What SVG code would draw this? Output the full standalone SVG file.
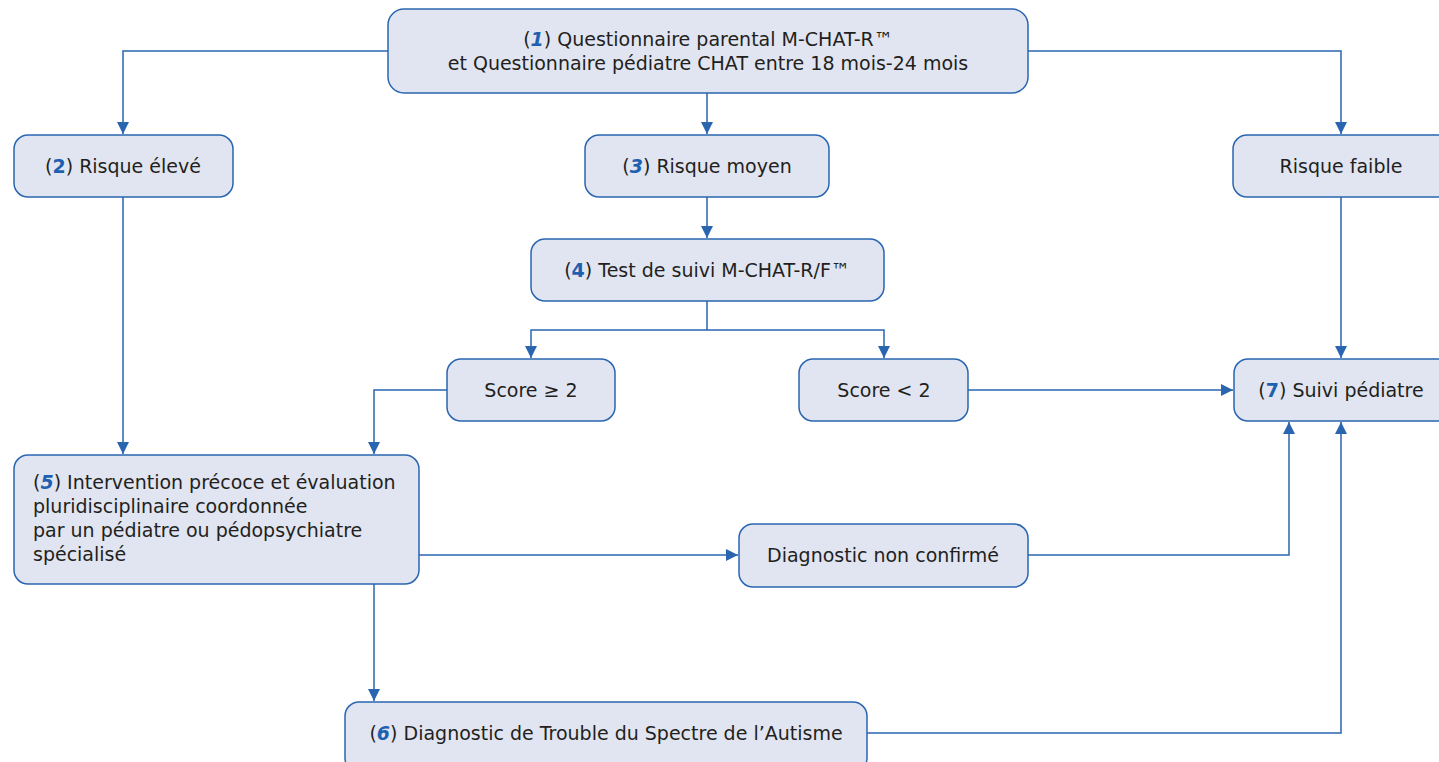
<svg xmlns="http://www.w3.org/2000/svg" width="1439" height="762" viewBox="0 0 1439 762">
<defs>
<style>
.box{fill:#e1e5f1;stroke:#2a65b0;stroke-width:1.5}
.t{font-family:"DejaVu Sans","Noto Sans","Liberation Sans",sans-serif;font-size:19px;fill:#231f20}
.n{fill:#1f5fb0;font-weight:bold;font-style:italic}
.u{fill:#1f5fb0;font-weight:bold}
.c{text-anchor:middle}
.ln{fill:none;stroke:#2a65b0;stroke-width:1.5}
</style>
<marker id="ah" viewBox="0 0 10 10" refX="10" refY="5" markerWidth="12" markerHeight="12" markerUnits="userSpaceOnUse" orient="auto">
<path d="M0,0 L10,5 L0,10 z" fill="#2a65b0"/>
</marker>
</defs>
<rect width="1439" height="762" fill="#fff"/>
<g id="connectors">
<path class="ln" d="M388,51 H123 V134" marker-end="url(#ah)"/>
<path class="ln" d="M707,93 V134" marker-end="url(#ah)"/>
<path class="ln" d="M1028,51 H1341 V134" marker-end="url(#ah)"/>
<path class="ln" d="M123,197 V454" marker-end="url(#ah)"/>
<path class="ln" d="M707,197 V238" marker-end="url(#ah)"/>
<path class="ln" d="M707,301 V330 H531 V358" marker-end="url(#ah)"/>
<path class="ln" d="M707,330 H884 V358" marker-end="url(#ah)"/>
<path class="ln" d="M447,390 H374 V454" marker-end="url(#ah)"/>
<path class="ln" d="M968,390 H1233" marker-end="url(#ah)"/>
<path class="ln" d="M1341,197 V358" marker-end="url(#ah)"/>
<path class="ln" d="M419,555 H738" marker-end="url(#ah)"/>
<path class="ln" d="M1028,555 H1289 V422" marker-end="url(#ah)"/>
<path class="ln" d="M374,584 V701" marker-end="url(#ah)"/>
<path class="ln" d="M867,733 H1341 V422" marker-end="url(#ah)"/>
</g>
<g id="n1">
<rect class="box" x="388" y="9" width="640" height="84" rx="16"/>
<text class="t c" x="708" y="46">(<tspan class="n">1</tspan>) Questionnaire parental M-CHAT-R™</text>
<text class="t c" x="708" y="70">et Questionnaire pédiatre CHAT entre 18 mois-24 mois</text>
</g>
<g id="n2">
<rect class="box" x="14" y="135" width="219" height="62" rx="14"/>
<text class="t c" x="123" y="173">(<tspan class="u">2</tspan>) Risque élevé</text>
</g>
<g id="n3">
<rect class="box" x="585" y="135" width="244" height="62" rx="14"/>
<text class="t c" x="707" y="173">(<tspan class="n">3</tspan>) Risque moyen</text>
</g>
<g id="nfaible">
<rect class="box" x="1233" y="135" width="220" height="62" rx="14"/>
<text class="t c" x="1341" y="173">Risque faible</text>
</g>
<g id="n4">
<rect class="box" x="531" y="239" width="353" height="62" rx="14"/>
<text class="t c" x="707" y="277">(<tspan class="u">4</tspan>) Test de suivi M-CHAT-R/F™</text>
</g>
<g id="nscore1">
<rect class="box" x="447" y="359" width="168" height="62" rx="14"/>
<text class="t c" x="531" y="397">Score ≥ 2</text>
</g>
<g id="nscore2">
<rect class="box" x="799" y="359" width="169" height="62" rx="14"/>
<text class="t c" x="884" y="397">Score &lt; 2</text>
</g>
<g id="n7">
<rect class="box" x="1234" y="359" width="220" height="62" rx="14"/>
<text class="t c" x="1341" y="397">(<tspan class="u">7</tspan>) Suivi pédiatre</text>
</g>
<g id="n5">
<rect class="box" x="14" y="455" width="405" height="129" rx="14"/>
<text class="t" x="33" y="489">(<tspan class="n">5</tspan>) Intervention précoce et évaluation</text>
<text class="t" x="33" y="513">pluridisciplinaire coordonnée</text>
<text class="t" x="33" y="537">par un pédiatre ou pédopsychiatre</text>
<text class="t" x="33" y="561">spécialisé</text>
</g>
<g id="ndiag">
<rect class="box" x="739" y="524" width="289" height="63" rx="14"/>
<text class="t c" x="883" y="562">Diagnostic non confirmé</text>
</g>
<g id="n6">
<rect class="box" x="345" y="702" width="522" height="70" rx="14"/>
<text class="t c" x="606" y="740">(<tspan class="n">6</tspan>) Diagnostic de Trouble du Spectre de l’Autisme</text>
</g>
</svg>
